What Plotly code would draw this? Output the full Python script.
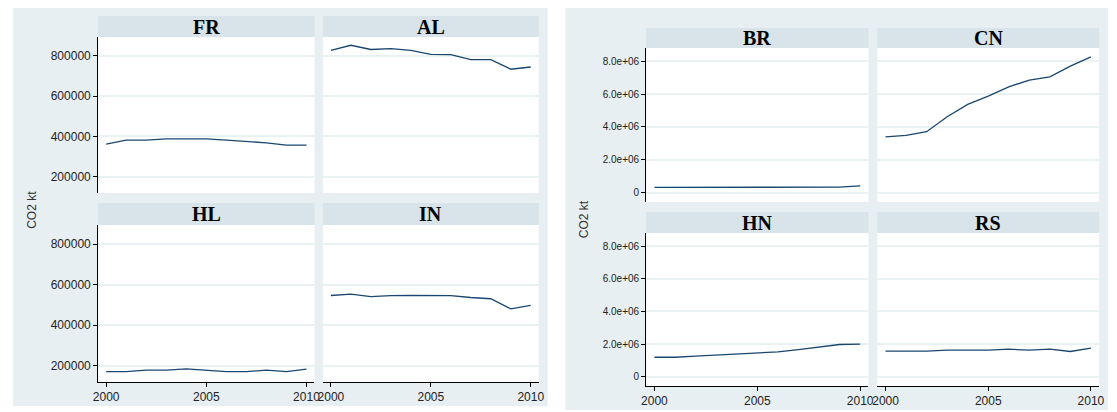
import plotly.graph_objects as go

years = list(range(2000, 2011))

# Left panel (kt CO2)
left_names = ["FR", "AL", "HL", "IN"]
FR = [362000, 382000, 382000, 388000, 388000, 388000, 382000, 375000, 368000, 357000, 357000]
AL = [828000, 853000, 832000, 836000, 828000, 808000, 806000, 782000, 782000, 734000, 745000]
HL = [170000, 170000, 178000, 178000, 184000, 178000, 170000, 170000, 178000, 170000, 183000]
IN = [546000, 553000, 540000, 545000, 546000, 546000, 545000, 536000, 530000, 480000, 497000]

# Right panel (kt CO2)
right_names = ["BR", "CN", "HN", "RS"]
BR = [325000, 330000, 330000, 325000, 330000, 335000, 335000, 340000, 345000, 345000, 420000]
CN = [3400000, 3490000, 3710000, 4620000, 5370000, 5880000, 6440000, 6850000, 7050000, 7700000, 8260000]
HN = [1200000, 1200000, 1270000, 1330000, 1390000, 1430000, 1530000, 1670000, 1840000, 1980000, 2000000]
RS = [1570000, 1570000, 1570000, 1630000, 1630000, 1630000, 1690000, 1630000, 1690000, 1550000, 1760000]

left_yticks = [200000, 400000, 600000, 800000]
left_yticktext = ["200000", "400000", "600000", "800000"]
right_yticks = [0, 2000000, 4000000, 6000000, 8000000]
right_yticktext = ["0", "2.0e+06", "4.0e+06", "6.0e+06", "8.0e+06"]
xticks = [2000, 2005, 2010]

# page body has an 8px margin; the figure is sized/offset to compensate
OFF = 8
W, H = 1117 - OFF, 412 - OFF
BG = "#E8EFF2"
STRIP = "#D8E4EA"
GRID = "#EAF1F3"
LINE = "#1A476F"

def fx(px):
    return max(0.0, min(1.0, (px - OFF) / W))

def fy(py):
    return max(0.0, min(1.0, 1 - (py - OFF) / H))

panels = [
    dict(names=left_names, data=[FR, AL, HL, IN],
         cols=[(94, 312.5), (321, 539)], rows=[(37, 193), (225, 382)],
         strips=[(16, 37), (203, 225)], yr=[119000, 894000],
         yt=left_yticks, ytt=left_yticktext, yfs=12,
         bg=(7, 5, 548, 406), title_xy=(27, 210)),
    dict(names=right_names, data=[BR, CN, HN, RS],
         cols=[(647.5, 872), (881, 1105)], rows=[(48, 202), (233, 386)],
         strips=[(28, 48), (212, 233)], yr=[-560000, 8800000],
         yt=right_yticks, ytt=right_yticktext, yfs=10,
         bg=(566, 6, 1114, 410), title_xy=(585, 219)),
]

fig = go.Figure()
shapes = []
annotations = []
layout = {}
k = 0
for p in panels:
    x0, y0, x1, y1 = p["bg"]
    shapes.append(dict(type="rect", xref="paper", yref="paper", x0=fx(x0), x1=fx(x1),
                       y0=fy(y1), y1=fy(y0), fillcolor=BG, line=dict(width=0), layer="below"))
    annotations.append(dict(text="CO2 kt", xref="paper", yref="paper",
                            x=fx(p["title_xy"][0]), y=fy(p["title_xy"][1]), textangle=-90,
                            showarrow=False, font=dict(family="Liberation Sans, Arial", size=12, color="#333"),
                            xanchor="center", yanchor="middle"))
    for i in range(4):
        r, c = divmod(i, 2)
        k += 1
        cx0, cx1 = p["cols"][c]
        ry0, ry1 = p["rows"][r]
        sy0, sy1 = p["strips"][r]
        xa = "xaxis" if k == 1 else f"xaxis{k}"
        ya = "yaxis" if k == 1 else f"yaxis{k}"
        xr = "x" if k == 1 else f"x{k}"
        yr_ = "y" if k == 1 else f"y{k}"
        # white plot area
        shapes.append(dict(type="rect", xref="paper", yref="paper", x0=fx(cx0), x1=fx(cx1),
                           y0=fy(ry1), y1=fy(ry0), fillcolor="white", line=dict(width=0), layer="below"))
        # strip
        shapes.append(dict(type="rect", xref="paper", yref="paper", x0=fx(cx0), x1=fx(cx1),
                           y0=fy(sy1), y1=fy(sy0), fillcolor=STRIP, line=dict(width=0), layer="below"))
        annotations.append(dict(text="<b>%s</b>" % p["names"][i], xref="paper", yref="paper",
                                x=fx((cx0 + cx1) / 2), y=fy((sy0 + sy1) / 2), showarrow=False,
                                font=dict(family="Liberation Serif, Times New Roman", size=20, color="black"),
                                xanchor="center", yanchor="middle"))
        fig.add_trace(go.Scatter(x=years, y=p["data"][i], mode="lines",
                                 line=dict(color=LINE, width=1.3), xaxis=xr, yaxis=yr_,
                                 showlegend=False))
        bottom = (r == 1)
        left = (c == 0)
        layout[xa] = dict(domain=[fx(cx0), fx(cx1)], anchor=yr_, range=[1999.6, 2010.4],
                          tickvals=xticks, ticktext=[str(v) for v in xticks],
                          showticklabels=bottom, showgrid=False, zeroline=False,
                          showline=bottom, linecolor="black", linewidth=1,
                          ticks="outside" if bottom else "", ticklen=4, tickcolor="black",
                          tickfont=dict(family="Liberation Sans, Arial", size=12, color="#222"),
                          fixedrange=True)
        layout[ya] = dict(domain=[fy(ry1), fy(ry0)], anchor=xr, range=p["yr"],
                          tickvals=p["yt"], ticktext=p["ytt"],
                          showticklabels=left, showgrid=True, gridcolor=GRID, gridwidth=1.5,
                          zeroline=False, showline=left, linecolor="black", linewidth=1,
                          ticks="outside" if left else "", ticklen=4, tickcolor="black",
                          tickfont=dict(family="Liberation Sans, Arial", size=p["yfs"], color="#222"),
                          fixedrange=True)

fig.update_layout(width=W, height=H, autosize=False, margin=dict(l=0, r=0, t=0, b=0),
                  paper_bgcolor="white", plot_bgcolor="rgba(0,0,0,0)",
                  shapes=shapes, annotations=annotations, showlegend=False, **layout)
fig.write_html("out.html", config={"displayModeBar": False})
